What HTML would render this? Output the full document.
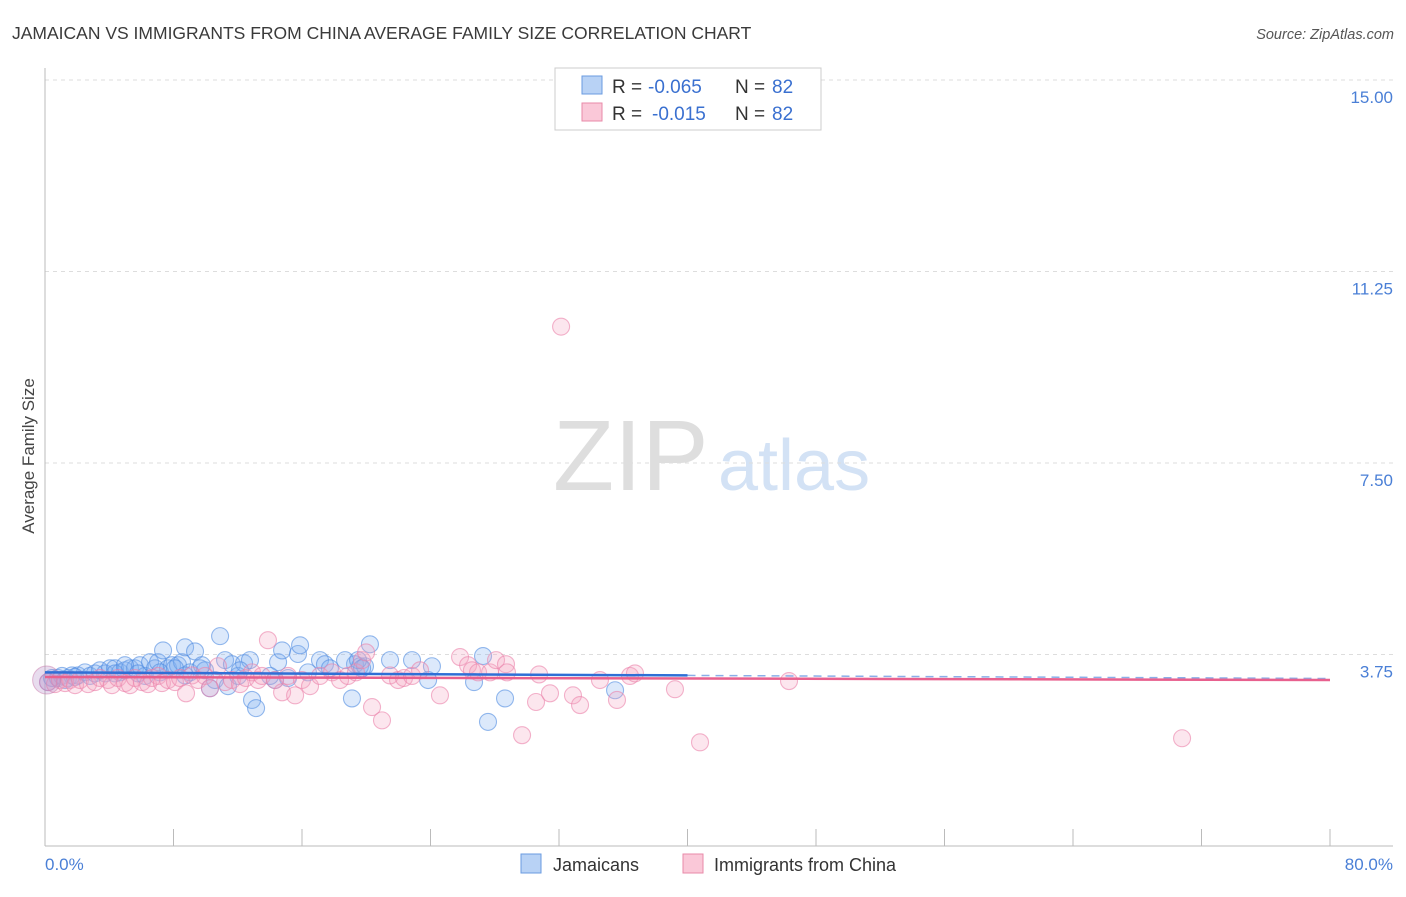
<!DOCTYPE html>
<html><head><meta charset="utf-8"><style>
body{margin:0;background:#fff;font-family:"Liberation Sans",sans-serif;}
svg text{font-family:"Liberation Sans",sans-serif;}
</style></head><body>
<svg id="chart" width="1406" height="892" xmlns="http://www.w3.org/2000/svg">
<text x="12" y="39" font-size="17.5" fill="#3a3a3a">JAMAICAN VS IMMIGRANTS FROM CHINA AVERAGE FAMILY SIZE CORRELATION CHART</text>
<text x="1394" y="39" font-size="14.5" fill="#555" font-style="italic" text-anchor="end">Source: ZipAtlas.com</text>
<g>
<text x="553" y="490" font-size="100" fill="#dedede" font-family="Liberation Serif,serif">ZIP</text>
<text x="718" y="490" font-size="72" fill="#d3e2f5">atlas</text>
</g>
<g id="grid"></g>
<line x1="45" y1="68" x2="45" y2="846" stroke="#bbb"/>
<line x1="45" y1="846" x2="1393" y2="846" stroke="#bbb"/>
<text transform="translate(34,456) rotate(-90)" font-size="17" fill="#444" text-anchor="middle">Average Family Size</text>
<text x="45" y="870" font-size="17" fill="#4a7fd6">0.0%</text>
<text x="1393" y="870" font-size="17" fill="#4a7fd6" text-anchor="end">80.0%</text>
<g id="points"></g>
<g id="trends"></g>
<g>
<rect x="555" y="68" width="266" height="62" fill="#fff" stroke="#ccc"/>
<rect x="582" y="76" width="20" height="18" fill="#b8d2f5" stroke="#6a9be0"/>
<rect x="582" y="103" width="20" height="18" fill="#fac8d8" stroke="#e88aa8"/>
<text x="612" y="93" font-size="19" fill="#333">R =</text>
<text x="648" y="93" font-size="19" fill="#3a70d0">-0.065</text>
<text x="735" y="93" font-size="19" fill="#333">N =</text>
<text x="772" y="93" font-size="19" fill="#3a70d0">82</text>
<text x="612" y="120" font-size="19" fill="#333">R =</text>
<text x="652" y="120" font-size="19" fill="#3a70d0">-0.015</text>
<text x="735" y="120" font-size="19" fill="#333">N =</text>
<text x="772" y="120" font-size="19" fill="#3a70d0">82</text>
</g>
<g>
<rect x="521" y="854" width="20" height="19" fill="#b8d2f5" stroke="#6a9be0"/>
<text x="553" y="871" font-size="18" fill="#333">Jamaicans</text>
<rect x="683" y="854" width="20" height="19" fill="#fac8d8" stroke="#e88aa8"/>
<text x="714" y="871" font-size="18" fill="#333">Immigrants from China</text>
</g>
</svg>
<script>
const yTicks=[3.75,7.50,11.25,15.00];
const yTickLabels=["3.75","7.50","11.25","15.00"];
const xTicks=[0,8,16,24,32,40,48,56,64,72,80];
const blueX=[0.19,0.44,0.81,1.06,1.43,1.68,2.05,2.49,2.80,3.11,3.42,3.74,4.05,4.36,4.67,4.98,5.29,5.60,5.91,6.23,6.54,6.85,7.04,7.35,7.66,7.91,8.28,8.53,8.72,9.03,9.34,9.65,9.96,10.27,10.58,10.90,11.21,11.39,11.64,12.02,12.39,12.76,12.89,13.14,14.32,14.51,14.76,15.13,15.75,15.88,16.37,17.12,17.43,17.74,19.11,19.30,19.61,19.92,20.23,21.48,22.85,23.85,24.09,26.71,27.27,27.58,28.64,35.49,1.25,1.87,4.36,4.98,7.16,8.09,8.72,12.14,14.01,18.68,19.49,19.74,9.77,5.79];
const blueY=[3.21,3.29,3.29,3.33,3.29,3.34,3.34,3.40,3.33,3.38,3.44,3.38,3.48,3.48,3.40,3.44,3.48,3.48,3.54,3.33,3.60,3.48,3.60,3.83,3.48,3.54,3.54,3.60,3.89,3.40,3.81,3.48,3.44,3.09,3.25,4.11,3.64,3.13,3.56,3.33,3.58,3.64,2.86,2.70,3.25,3.60,3.83,3.29,3.76,3.93,3.40,3.64,3.56,3.48,2.89,3.56,3.52,3.52,3.95,3.64,3.64,3.25,3.52,3.21,3.72,2.43,2.89,3.05,3.25,3.31,3.38,3.54,3.40,3.48,3.34,3.44,3.33,3.64,3.64,3.48,3.54,3.38];
const pinkX=[0.19,0.62,0.93,1.25,1.56,1.87,2.18,2.68,3.11,3.42,3.92,4.17,4.54,4.98,5.29,5.60,6.04,6.41,6.66,7.04,7.28,7.66,8.09,8.41,8.78,9.15,9.53,9.96,10.27,10.77,11.21,11.64,12.14,12.51,12.89,13.26,13.51,13.88,14.32,14.76,15.13,15.57,16.00,16.50,17.12,17.87,18.37,18.86,19.36,19.74,19.99,20.36,20.98,21.48,21.98,22.35,22.85,23.35,24.59,25.84,26.34,26.58,26.96,27.71,28.08,28.70,28.76,29.70,30.57,30.76,31.44,32.13,32.87,33.31,34.55,35.61,36.42,36.73,39.22,40.78,46.32,70.79];
const pinkY=[3.21,3.17,3.25,3.19,3.25,3.15,3.25,3.17,3.21,3.29,3.25,3.15,3.29,3.19,3.15,3.29,3.21,3.17,3.29,3.33,3.19,3.25,3.21,3.29,2.99,3.34,3.25,3.33,3.09,3.52,3.21,3.25,3.17,3.29,3.40,3.25,3.33,4.03,3.25,3.01,3.33,2.95,3.25,3.13,3.33,3.40,3.25,3.33,3.40,3.64,3.79,2.72,2.46,3.34,3.25,3.29,3.33,3.44,2.95,3.70,3.54,3.44,3.40,3.40,3.64,3.56,3.40,2.17,2.82,3.36,2.99,10.17,2.95,2.76,3.25,2.86,3.33,3.38,3.07,2.03,3.23,2.11];
const blueTrend=[3.40,3.34];   // y at x=0 and x=40
const pinkTrend=[3.31,3.25];   // y at x=0 and x=80
const X0=45,X1=1330,Y0=846,Y15=80;
const xs=v=>X0+(X1-X0)*v/80;
const ys=v=>Y0-(Y0-Y15)*v/15;
const NS="http://www.w3.org/2000/svg";
function mk(tag,attrs,parent){const e=document.createElementNS(NS,tag);for(const k in attrs)e.setAttribute(k,attrs[k]);parent.appendChild(e);return e;}
const grid=document.getElementById('grid');
yTicks.forEach((t,i)=>{
 const l=mk('line',{x1:45,x2:1393,y1:ys(t),y2:ys(t),stroke:'#ddd','stroke-dasharray':'4,4'},grid);
 
 
 const tx=mk('text',{x:1393,y:ys(t)+23,'font-size':17,fill:'#4a7fd6','text-anchor':'end'},grid);
 tx.textContent=yTickLabels[i];
 
 
});
xTicks.forEach(t=>{
 const l=mk('line',{x1:xs(t),x2:xs(t),y1:829,y2:846,stroke:'#bbb'},grid);
 
 
});
const pts=document.getElementById('points');
function series(X,Y,fill,stroke,name){
 X.forEach((x,i)=>{
  const c=mk('circle',{cx:xs(x),cy:ys(Y[i]),r:8.5,fill:fill,stroke:stroke,'stroke-width':1.1},pts);
  
  
 });
}
series(blueX,blueY,'rgba(130,175,240,0.28)','rgba(80,140,225,0.6)','jamaican-point');
series(pinkX,pinkY,'rgba(245,165,195,0.28)','rgba(235,130,170,0.6)','china-point');
const big=mk('circle',{cx:xs(0.1),cy:ys(3.25),r:14,fill:'rgba(180,140,200,0.3)',stroke:'rgba(200,120,170,0.5)'},pts);


const tr=document.getElementById('trends');
const bt=mk('line',{x1:xs(0),y1:ys(blueTrend[0]),x2:xs(40),y2:ys(blueTrend[1]),stroke:'#2f6fd6','stroke-width':2.5},tr);


const slope=(blueTrend[1]-blueTrend[0])/40;
const bd=mk('line',{x1:xs(40),y1:ys(blueTrend[1]),x2:xs(80),y2:ys(blueTrend[1]+slope*40),stroke:'#8aaee8','stroke-width':1.5,'stroke-dasharray':'8,6'},tr);


const pt=mk('line',{x1:xs(0),y1:ys(pinkTrend[0]),x2:xs(80),y2:ys(pinkTrend[1]),stroke:'#e8608e','stroke-width':2.5},tr);


</script>
</body></html>
